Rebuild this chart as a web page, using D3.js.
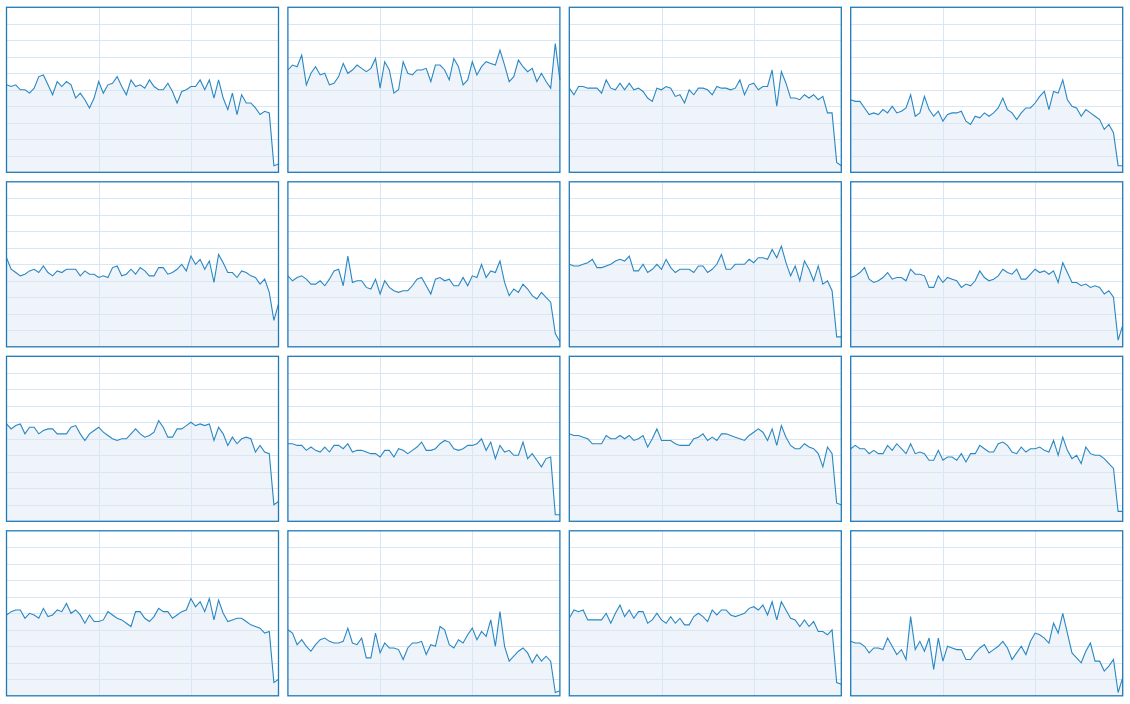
<!DOCTYPE html>
<html>
<head>
<meta charset="utf-8">
<script src="https://cdn.jsdelivr.net/npm/d3@7"></script>
<style>
  html, body { margin: 0; padding: 0; background: #fff; }
  .grid line { stroke: #d8e7f3; stroke-width: 1; shape-rendering: crispEdges; }
  .grid path { display: none; }
  .area { fill: #eef4f9; }
  .line { fill: none; stroke: #2a87c2; stroke-width: 1.1; }
  .frame { fill: none; stroke: #1f7ab8; stroke-width: 1.3; }
</style>
</head>
<body>
<svg id="chart" width="1130" height="704"></svg>
<script>
// 60 samples per panel, values in percent
var s1 = [53,52,53,50,50,48,51,58,59,53,47,55,52,55,53,45,48,44,39,45,55,48,53,54,58,52,47,56,52,53,51,56,52,50,50,54,49,42,49,50,52,52,56,50,56,45,56,45,38,48,35,47,42,42,39,35,37,36,4,5];
var s2 = [62,65,64,71,53,60,64,59,60,53,54,58,66,60,62,65,63,61,63,69,51,67,62,48,50,67,60,59,62,62,63,55,65,65,62,56,69,64,53,56,67,59,64,67,66,65,74,65,55,58,68,64,61,63,55,60,55,51,78,56];
var s3 = [51,47,52,52,51,51,51,48,56,51,50,54,50,54,50,51,49,45,43,51,50,52,51,46,47,42,50,47,51,51,50,47,52,51,51,50,51,56,47,53,54,50,52,52,62,40,61,54,45,45,44,47,45,47,44,46,36,36,6,4];
var s4 = [44,43,43,39,35,36,35,38,36,40,36,37,39,47,34,36,46,38,34,37,31,35,36,36,37,31,29,34,33,36,34,36,39,45,38,36,32,36,39,39,42,46,49,38,49,48,56,44,40,39,34,38,36,34,32,26,29,24,4,4];
var s5 = [54,47,45,43,44,46,47,45,49,45,43,46,45,47,47,47,43,46,44,44,42,43,42,48,49,43,44,47,44,48,46,43,43,48,48,44,45,47,50,46,55,50,53,47,52,39,56,51,45,45,42,46,45,43,42,38,41,33,16,26];
var s6 = [43,40,42,43,41,38,38,40,37,41,46,47,37,55,39,40,40,36,35,41,32,40,36,34,33,34,34,37,41,42,37,32,41,42,40,41,37,37,42,37,43,42,50,42,46,45,52,39,31,35,33,38,35,31,29,33,30,27,8,3];
var s7 = [50,49,49,50,51,53,48,48,49,50,52,53,52,55,46,46,50,45,47,50,47,53,48,45,47,47,47,45,49,49,45,47,50,56,47,47,50,50,50,53,51,54,54,53,59,54,61,51,43,49,40,52,47,40,49,38,40,34,6,6];
var s8 = [42,43,45,48,41,39,40,42,45,41,42,42,40,47,44,44,43,36,36,43,39,42,41,40,36,38,37,40,46,42,40,41,43,47,45,44,47,41,41,44,47,45,46,44,46,39,51,45,39,39,37,38,36,37,36,32,34,30,4,13];
var s9 = [59,56,58,59,53,57,57,53,55,56,56,53,53,53,57,58,53,49,53,55,57,54,52,50,49,50,50,53,56,53,51,52,54,61,57,51,51,56,56,58,60,58,59,58,59,49,57,53,46,51,47,50,51,50,42,46,42,41,10,12];
var s10 = [47,47,46,46,43,45,43,42,45,42,46,46,44,47,42,43,43,42,41,41,39,43,43,39,44,43,41,43,45,48,43,43,44,47,49,48,44,43,44,46,46,47,50,43,48,38,46,42,43,40,40,48,38,41,37,33,38,39,4,4];
var s11 = [53,52,52,51,50,47,47,47,52,50,50,52,50,52,49,50,52,45,50,56,49,49,49,47,46,46,46,50,51,53,49,51,49,53,53,52,51,50,49,52,54,56,54,49,56,46,58,51,46,44,44,47,45,44,41,33,45,41,11,10];
var s12 = [44,46,44,44,41,43,41,41,46,43,47,44,41,47,41,42,41,37,37,43,37,39,39,37,41,36,41,41,46,44,42,42,47,48,46,42,41,45,42,44,44,45,43,42,49,40,51,43,38,40,35,45,41,40,40,38,35,32,6,6];
var s13 = [49,51,52,52,47,50,49,47,53,48,49,52,51,56,50,52,49,44,49,45,45,46,51,49,47,46,44,42,51,51,47,45,48,53,51,51,47,49,51,52,59,54,57,51,59,46,58,50,45,46,47,47,45,43,42,41,38,39,8,10];
var s14 = [40,38,31,34,30,27,31,34,35,33,32,32,33,41,32,31,35,23,23,38,26,32,29,29,28,22,29,32,32,33,25,31,30,42,40,31,29,34,32,37,41,34,39,36,46,30,51,30,21,24,27,29,26,20,25,21,24,21,2,3];
var s15 = [47,52,51,52,46,46,46,46,50,44,50,55,48,52,47,51,51,44,46,50,46,44,48,44,47,43,43,48,50,48,45,52,49,52,52,49,48,49,50,53,54,52,55,49,57,46,57,52,47,46,42,46,42,45,39,39,37,40,8,7];
var s16 = [33,32,32,30,26,29,29,28,35,30,25,28,22,48,28,33,27,35,16,35,21,30,29,28,28,22,22,26,29,31,26,28,30,33,29,22,26,30,25,33,38,37,35,32,44,38,50,38,26,23,20,27,32,21,21,15,18,22,2,11];

var seriesList = [s1, s2, s3, s4, s5, s6, s7, s8, s9, s10, s11, s12, s13, s14, s15, s16];
var xTicks = [20, 40];
var yTicks = [10, 20, 30, 40, 50, 60, 70, 80, 90];

var cols = 4;
var panelWidth = 272;
var panelHeight = 165;
var stepX = 281.4;
var stepY = 174.5;
var originX = 6.5;
var originY = 7.3;

var svg = d3.select("#chart");

var x = d3.scaleLinear().domain([0, 59]).range([0, panelWidth]);
var y = d3.scaleLinear().domain([0, 100]).range([panelHeight, 0]);

var area = d3.area()
  .x(function(d, i) { return x(i); })
  .y0(y(0))
  .y1(function(d) { return y(d); });

var line = d3.line()
  .x(function(d, i) { return x(i); })
  .y(function(d) { return y(d); });

function drawPanel(values, i) {
  var col = i % cols;
  var row = Math.floor(i / cols);
  var g = svg.append("g")
    .attr("transform", "translate(" + (originX + col * stepX) + "," + (originY + row * stepY) + ")");

  g.append("path")
    .datum(values)
    .attr("class", "area")
    .attr("d", area);

  // horizontal grid
  g.append("g")
    .attr("class", "grid")
    .call(d3.axisLeft(y).tickValues(yTicks).tickSize(-panelWidth).tickFormat(""));

  // vertical grid
  g.append("g")
    .attr("class", "grid")
    .attr("transform", "translate(0," + panelHeight + ")")
    .call(d3.axisBottom(x).tickValues(xTicks).tickSize(-panelHeight).tickFormat(""));

  g.append("path")
    .datum(values)
    .attr("class", "line")
    .attr("d", line);

  g.append("rect")
    .attr("class", "frame")
    .attr("width", panelWidth)
    .attr("height", panelHeight);
}

seriesList.forEach(drawPanel);
</script>
</body>
</html>
